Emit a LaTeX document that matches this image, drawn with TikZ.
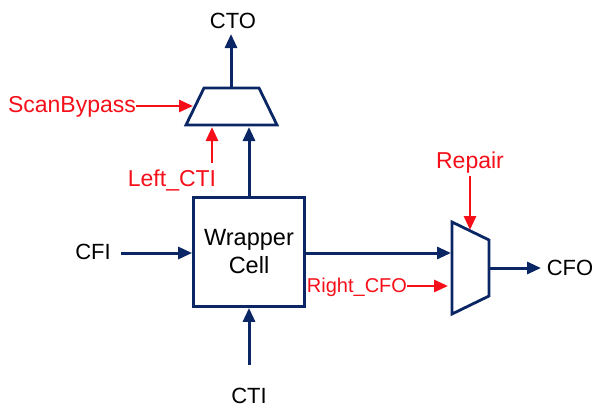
\documentclass[tikz,border=0pt]{standalone}
\usepackage{fontspec}
\setmainfont{Liberation Sans}
\usetikzlibrary{arrows.meta}
\definecolor{navy}{RGB}{10,38,100}
\definecolor{redl}{RGB}{245,15,25}
\tikzset{x=1pt,y=-1pt,
 bl/.style={draw=navy,line width=3pt,-{Triangle[length=14pt,width=12pt]}},
 rd/.style={draw=redl,line width=2.8pt,-{Triangle[length=14pt,width=12pt]}},
 shp/.style={draw=navy,line width=2.8pt,fill=white,line join=miter},
 lk/.style={font=\fontsize{22}{22}\selectfont,text=black,inner sep=0pt},
 lr/.style={font=\fontsize{23}{23}\selectfont,text=redl,inner sep=0pt}}
\begin{document}
\begin{tikzpicture}
\useasboundingbox (0,0) rectangle (594,407);
\node[draw=navy,line width=2.8pt,minimum width=111pt,minimum height=109pt,inner sep=0pt,align=center,font=\fontsize{23.5}{28}\selectfont] (cell) at (249,252) {Wrapper\\Cell};
\coordinate (mtl) at (204,88);\coordinate (mtr) at (259,88);
\coordinate (mbl) at (186,125);\coordinate (mbr) at (277,125);
\draw[shp] (mtl)--(mtr)--(mbr)--(mbl)--cycle;
\coordinate (ml) at (452,222);\coordinate (mr) at (489,240);
\coordinate (mr2) at (489,296);\coordinate (ml2) at (452,314);
\draw[shp] (ml)--(mr)--(mr2)--(ml2)--cycle;
\node[lk] (cto) at (233,21) {CTO};
\node[lk] (cfi) at (93,252) {CFI};
\node[lk] (cti) at (249,396) {CTI};
\node[lk] (cfo) at (570,268) {CFO};
\node[lr] (sb) at (72,107) {ScanBypass};
\node[lr] (lc) at (172,180) {Left\_CTI};
\node[lr] (rep) at (470,163) {Repair};
\node[lr,font=\fontsize{20}{20}\selectfont] (rc) at (357,287) {Right\_CFO};
\coordinate (a1) at (231,88);\coordinate (a2) at (231,34);
\draw[bl] (a1)--(a2);
\draw[bl] (cell.north) -- (249,127);
\draw[bl] (121,253) -- (cell.west |- 0,253);
\draw[bl] (249,365) -- (cell.south);
\draw[bl] (cell.east |- 0,253) -- (451,253);
\draw[bl] (489,268) -- (541,268);
\draw[rd] (sb.east |- 0,106) -- (193,106);
\draw[rd] (212,163) -- (212,127);
\draw[rd] (470,176) -- (470,230);
\draw[rd] (rc.east |- 0,286) -- (448,286);
\end{tikzpicture}
\end{document}
